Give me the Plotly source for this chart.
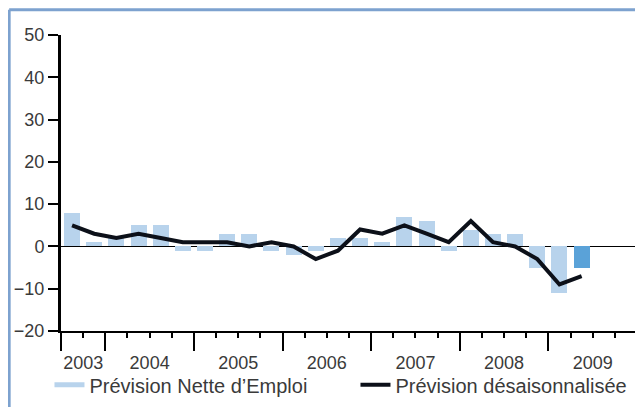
import plotly.graph_objects as go

# ---- data ----
quarters = ["2003 T3", "2003 T4",
            "2004 T1", "2004 T2", "2004 T3", "2004 T4",
            "2005 T1", "2005 T2", "2005 T3", "2005 T4",
            "2006 T1", "2006 T2", "2006 T3", "2006 T4",
            "2007 T1", "2007 T2", "2007 T3", "2007 T4",
            "2008 T1", "2008 T2", "2008 T3", "2008 T4",
            "2009 T1", "2009 T2"]
net_forecast = [8, 1, 2, 5, 5, -1, -1, 3, 3, -1, -2, -1, 2, 2, 1, 7, 6, -1, 4, 3, 3, -5, -11, -5]
seasonal = [5, 3, 2, 3, 2, 1, 1, 1, 0, 1, 0, -3, -1, 4, 3, 5, 3, 1, 6, 1, 0, -3, -9, -7]
years = ["2003", "2004", "2005", "2006", "2007", "2008", "2009"]
y_ticks = [-20, -10, 0, 10, 20, 30, 40, 50]

# ---- derived positions ----
x = list(range(len(quarters)))
year_start = {}
for i, q in enumerate(quarters):
    yr, qq = q.split()
    qn = int(qq[1:])
    if yr not in year_start:
        year_start[yr] = i - (qn - 1)
first = -0.5
bounds_lo = [max(first, year_start[y] - 0.5) for y in years]
bounds_hi = [year_start[y] + 3.5 for y in years]
centers = [(a + b) / 2 for a, b in zip(bounds_lo, bounds_hi)]
major = sorted(set(bounds_lo + bounds_hi))
xmax = bounds_hi[-1]

LIGHT = "#b8d3ec"
DARK = "#5aa2d8"
bar_colors = [LIGHT] * (len(quarters) - 1) + [DARK]
LINE = "#0c1019"
TXT = "#3a3a3a"
FONT = "Liberation Sans, Arial, sans-serif"

fig = go.Figure()
fig.add_trace(go.Bar(x=x, y=net_forecast, marker=dict(color=bar_colors, line=dict(width=0)),
                     width=0.72, showlegend=False, hoverinfo="skip"))
fig.add_trace(go.Scatter(x=[None], y=[None], mode="lines", name="Prévision Nette d’Emploi",
                         line=dict(color=LIGHT, width=5)))
fig.add_trace(go.Scatter(x=x, y=seasonal, mode="lines", name="Prévision désaisonnalisée",
                         line=dict(color=LINE, width=4)))
# invisible trace on xaxis2 so the year-label axis renders
fig.add_trace(go.Scatter(x=[centers[0]], y=[None], xaxis="x2", showlegend=False, hoverinfo="skip"))

fig.update_layout(
    width=635, height=399,
    margin=dict(l=53, r=6, t=27, b=76, autoexpand=False),
    paper_bgcolor="white", plot_bgcolor="white",
    font=dict(family=FONT, color=TXT, size=18),
    bargap=0,
    xaxis=dict(range=[first, xmax], tickmode="array", tickvals=major, showticklabels=False,
               ticks="outside", ticklen=18, tickwidth=2, tickcolor="black",
               showline=True, linecolor="black", linewidth=2, showgrid=False, zeroline=False,
               minor=dict(tickmode="linear", tick0=first, dtick=1, ticks="outside",
                          ticklen=5, tickwidth=2, tickcolor="black", showgrid=False)),
    xaxis2=dict(range=[first, xmax], overlaying="x", anchor="y", side="bottom",
                tickmode="array", tickvals=centers, ticktext=years, ticks="",
                showline=False, showgrid=False, zeroline=False,
                ticklabelstandoff=19, tickfont=dict(size=18, color=TXT, family=FONT)),
    yaxis=dict(range=[-20, 50], tickmode="array", tickvals=y_ticks, ticks="outside",
               ticklen=10, tickwidth=2, tickcolor="black", showline=True, linecolor="black",
               linewidth=3, showgrid=False, zeroline=True, zerolinecolor="black",
               zerolinewidth=1.2, tickfont=dict(size=18, color=TXT, family=FONT)),
    legend=dict(orientation="h", x=-0.02, xanchor="left", y=-0.182, yanchor="middle",
                font=dict(size=20, color=TXT, family=FONT), entrywidth=261,
                entrywidthmode="pixels", bgcolor="rgba(0,0,0,0)", itemclick=False),
    shapes=[
        dict(type="line", xref="paper", yref="paper", x0=-0.09, x1=-0.09, y0=-0.3, y1=1.085,
             line=dict(color="#7da2cf", width=3)),
        dict(type="line", xref="paper", yref="paper", x0=-0.09, x1=1.05, y0=1.085, y1=1.085,
             line=dict(color="#7da2cf", width=3)),
    ],
)

fig.write_html("out.html")
